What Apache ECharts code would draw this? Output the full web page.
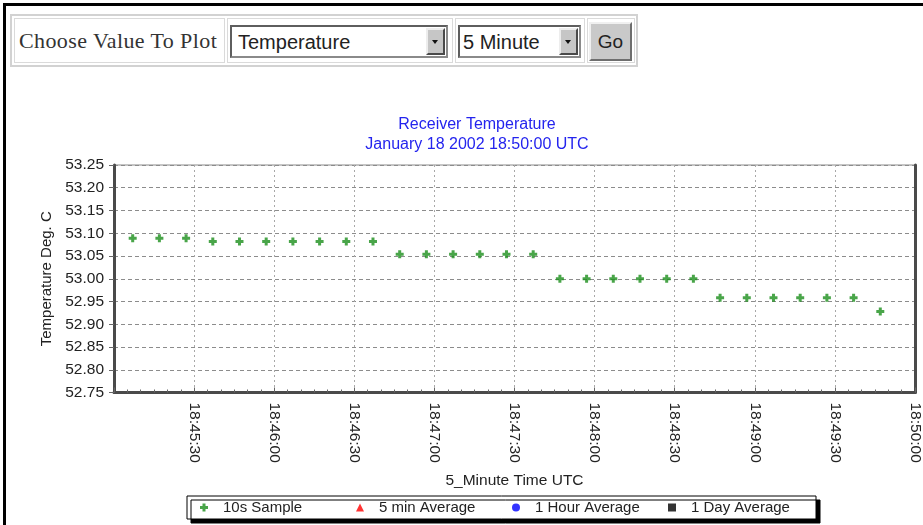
<!DOCTYPE html>
<html>
<head>
<meta charset="utf-8">
<script src="https://cdn.jsdelivr.net/npm/echarts@6/dist/echarts.min.js"></script>
<style>
  html, body { margin: 0; padding: 0; background: #fff; }
  #page { position: relative; width: 923px; height: 525px; overflow: hidden; background: #fff; }
  #chart { position: absolute; left: 0; top: 0; width: 923px; height: 525px; }
  .abs { position: absolute; box-sizing: border-box; }
  .frameTop { left: 3px; top: 3px; width: 920px; height: 3px; background: #000; }
  .frameLeft { left: 3px; top: 3px; width: 3px; height: 522px; background: #000; }
  .outer { left: 10px; top: 14px; width: 628px; height: 53px; border: 2px solid #d2d2d2; background: #fff; }
  .cell { top: 18px; height: 45px; border: 1px solid #dadada; background: #fff; }
  .label { font-family: "Liberation Serif", serif; font-size: 22px; letter-spacing: 0.4px; color: #333; white-space: nowrap; line-height: 45px; }
  .select { top: 25px; height: 33px; border: 2px solid #5e5e5e; border-right-color: #8a8a8a; border-bottom-color: #8a8a8a; background: #fff; }
  .selText { font-family: "Liberation Sans", Arial, sans-serif; font-size: 20px; color: #222; line-height: 30px; white-space: nowrap; }
  .arrow { top: 28px; width: 19px; height: 27px; background: #c6c6c6; border: 2px solid; border-color: #ededed #4a4a4a #4a4a4a #ededed; }
  .arrow::after { content: ""; position: absolute; left: 4px; top: 10px; border-left: 3.5px solid transparent; border-right: 3.5px solid transparent; border-top: 4px solid #111; }
  .go { left: 589px; top: 22px; width: 43px; height: 39px; background: #c9c9c9; border: 2px solid; border-color: #f0f0f0 #6e6e6e #6e6e6e #f0f0f0;
        font-family: "Liberation Sans", Arial, sans-serif; font-size: 19px; color: #222; text-align: center; line-height: 35px; }
</style>
</head>
<body>
<div id="page">
  <div id="chart"></div>
  <div class="abs frameTop"></div>
  <div class="abs frameLeft"></div>

  <!-- plot selection form -->
  <div class="abs outer"></div>
  <div class="abs cell" style="left:14px;width:211px;"></div>
  <div class="abs label" style="left:19px;top:18px;">Choose Value To Plot</div>
  <div class="abs cell" style="left:227px;width:226px;"></div>
  <div class="abs select" style="left:230px;width:218px;"></div>
  <div class="abs selText" style="left:238px;top:27px;">Temperature</div>
  <div class="abs arrow" style="left:426px;"></div>
  <div class="abs cell" style="left:455px;width:130px;"></div>
  <div class="abs select" style="left:458px;width:123px;"></div>
  <div class="abs selText" style="left:463px;top:27px;">5 Minute</div>
  <div class="abs arrow" style="left:559px;"></div>
  <div class="abs cell" style="left:587px;width:48px;"></div>
  <div class="abs go">Go</div>
</div>

<script>
// Receiver temperature, 10 second samples over the 5 minute window
const windowStart = '18:45:00';
const sampleTimes = [
  '18:45:07', '18:45:17', '18:45:27', '18:45:37', '18:45:47', '18:45:57',
  '18:46:07', '18:46:17', '18:46:27', '18:46:37', '18:46:47', '18:46:57',
  '18:47:07', '18:47:17', '18:47:27', '18:47:37', '18:47:47', '18:47:57',
  '18:48:07', '18:48:17', '18:48:27', '18:48:37', '18:48:47', '18:48:57',
  '18:49:07', '18:49:17', '18:49:27', '18:49:37', '18:49:47'
];
const sampleTemps = [
  53.089, 53.089, 53.089, 53.082, 53.082, 53.082,
  53.082, 53.082, 53.082, 53.082, 53.054, 53.054,
  53.054, 53.054, 53.054, 53.054, 53.000, 53.000,
  53.000, 53.000, 53.000, 53.000, 52.958, 52.958,
  52.958, 52.958, 52.958, 52.958, 52.928
];
// averages (no values in this window)
const avg5Min = [];
const avgHour = [];
const avgDay = [];

const seriesNames = ['10s Sample', '5 min Average', '1 Hour Average', '1 Day Average'];
const xTickLabels = [
  '18:45:30', '18:46:00', '18:46:30', '18:47:00', '18:47:30',
  '18:48:00', '18:48:30', '18:49:00', '18:49:30', '18:50:00'
];
const yTickLabels = ['52.75', '52.80', '52.85', '52.90', '52.95', '53.00', '53.05', '53.10', '53.15', '53.20', '53.25'];

const chartTitle = 'Receiver Temperature';
const chartSubtitle = 'January 18 2002 18:50:00 UTC';

function toSeconds(t) {
  const p = t.split(':').map(Number);
  return p[0] * 3600 + p[1] * 60 + p[2];
}
const t0 = toSeconds(windowStart);
const pairs = (times, vals) => times.map((t, i) => [toSeconds(t) - t0, vals[i]]);

const FONT = '"Liberation Sans", Arial, sans-serif';
const plusSymbol = 'path://M2.5,0H5.5V2.5H8V5.5H5.5V8H2.5V5.5H0V2.5H2.5Z';
const frameColor = '#4a4a4a';

const chart = echarts.init(document.getElementById('chart'), null, { renderer: 'canvas' });
chart.setOption({
  animation: false,
  backgroundColor: 'transparent',
  graphic: [
    { type: 'text', x: 477, y: 125, style: { text: chartTitle, align: 'center', verticalAlign: 'middle', fill: '#2424ee', font: '16px ' + FONT } },
    { type: 'text', x: 477, y: 145, style: { text: chartSubtitle, align: 'center', verticalAlign: 'middle', fill: '#2424ee', font: '16px ' + FONT } }
  ],
  grid: { left: 114, right: 4.5, top: 165, bottom: 132.5, show: true, borderColor: '#8a8a8a', borderWidth: 1, backgroundColor: 'transparent' },
  legend: {
    data: seriesNames,
    left: 187, top: 496,
    orient: 'horizontal',
    padding: [4, 2, 4, 13],
    itemWidth: 8, itemHeight: 8, itemGap: 10,
    symbolKeepAspect: true,
    selectedMode: false,
    backgroundColor: '#fff',
    borderColor: '#000', borderWidth: 1,
    shadowColor: '#000', shadowOffsetX: 4, shadowOffsetY: 4, shadowBlur: 0,
    textStyle: { fontFamily: FONT, fontSize: 15, color: '#222', width: 123, lineHeight: 14, padding: [0, 0, 0, 10] }
  },
  xAxis: {
    type: 'value', min: 0, max: 300, interval: 30,
    name: '5_Minute Time UTC', nameLocation: 'middle', nameGap: 80,
    nameTextStyle: { fontFamily: FONT, fontSize: 15.5, color: '#222' },
    axisLine: { show: true, lineStyle: { color: frameColor, width: 3 } },
    axisTick: { show: true, inside: true, length: 5, lineStyle: { color: '#666' } },
    minorTick: { show: true, splitNumber: 6, length: 3, lineStyle: { color: '#666' } },
    axisLabel: {
      rotate: -90, margin: 10, fontFamily: FONT, fontSize: 15.5, color: '#222',
      showMinLabel: true, showMaxLabel: true,
      formatter: v => { const i = Math.round(v / 30); return i >= 1 ? xTickLabels[i - 1] : ''; }
    },
    splitLine: { show: true, lineStyle: { color: '#a8a8a8', type: [2, 3], width: 1 } }
  },
  yAxis: [{
    type: 'value', min: 52.75, max: 53.25, interval: 0.05,
    name: 'Temperature Deg. C', nameLocation: 'middle', nameGap: 60, nameRotate: 90,
    nameTextStyle: { fontFamily: FONT, fontSize: 15, color: '#222' },
    axisLine: { show: true, lineStyle: { color: frameColor, width: 3 } },
    axisTick: { show: true, length: 5, lineStyle: { color: '#666' } },
    axisLabel: {
      margin: 10, fontFamily: FONT, fontSize: 15.5, color: '#222',
      formatter: v => yTickLabels[Math.round((v - 52.75) / 0.05)]
    },
    splitLine: { show: true, lineStyle: { color: '#8c8c8c', type: [4, 3], width: 1 } }
  }, {
    type: 'value', min: 52.75, max: 53.25, position: 'right',
    axisLine: { show: true, lineStyle: { color: frameColor, width: 3 } },
    axisTick: { show: false }, axisLabel: { show: false }, splitLine: { show: false }
  }],
  series: [
    { name: seriesNames[0], type: 'scatter', symbol: plusSymbol, symbolSize: 8, symbolKeepAspect: true,
      itemStyle: { color: '#1b8f1b' }, data: pairs(sampleTimes, sampleTemps) },
    { name: seriesNames[1], type: 'scatter', symbol: 'triangle', symbolSize: 7, symbolKeepAspect: true,
      itemStyle: { color: '#ff0000' }, data: avg5Min },
    { name: seriesNames[2], type: 'scatter', symbol: 'circle', symbolSize: 7, symbolKeepAspect: true,
      itemStyle: { color: '#0000ff' }, data: avgHour },
    { name: seriesNames[3], type: 'scatter', symbol: 'rect', symbolSize: 7, symbolKeepAspect: true,
      itemStyle: { color: '#000000' }, data: avgDay }
  ]
});
</script>
</body>
</html>
